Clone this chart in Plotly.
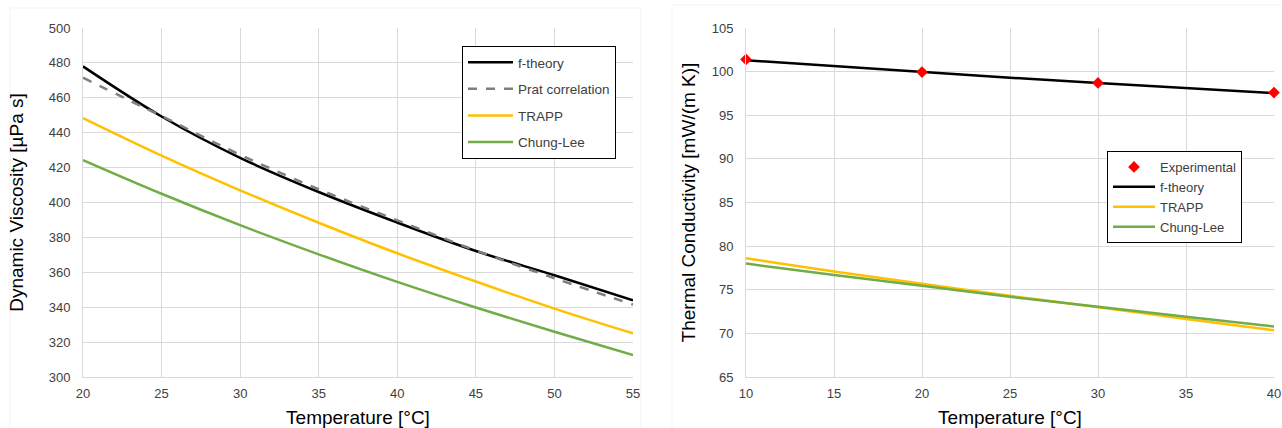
import plotly.graph_objects as go

# ---- Data: Dynamic viscosity (left) ----
temp_visc = [20, 25, 30, 35, 40, 45, 50, 55]
visc_ftheory = [478.0, 449.3, 425.6, 406.0, 388.5, 372.2, 358.3, 344.0]
visc_prat = [471.5, 449.5, 427.4, 407.6, 389.8, 372.5, 356.6, 341.5]
visc_trapp = [448.4, 426.9, 407.0, 388.4, 370.9, 354.7, 339.2, 325.0]
visc_chung = [424.3, 405.0, 387.0, 370.3, 354.5, 339.8, 325.9, 312.6]

# ---- Data: Thermal conductivity (right) ----
temp_exp = [10, 20, 30, 40]
cond_exp = [101.4, 99.95, 98.7, 97.6]
temp_cond = [10, 15, 20, 25, 30, 35, 40]
cond_ftheory = [101.3, 100.63, 99.95, 99.3, 98.7, 98.12, 97.55]
cond_trapp = [78.6, 77.1, 75.7, 74.3, 73.0, 71.65, 70.35]
cond_chung = [78.0, 76.7, 75.45, 74.2, 73.05, 71.9, 70.8]

BLACK = "#000000"
GRAY = "#7f7f7f"
GOLD = "#ffc000"
GREEN = "#70ad47"
RED = "#ff0000"
FONT = "Liberation Sans, Arial, sans-serif"
W, H = 1282, 428
TOP, BOT = 28, 377

fig = go.Figure()

# Left chart traces
fig.add_trace(go.Scatter(x=temp_visc, y=visc_ftheory, mode="lines", name="f-theory",
                         line=dict(color=BLACK, width=2.5, shape="spline"),
                         xaxis="x", yaxis="y", legend="legend", legendgroup="a"))
fig.add_trace(go.Scatter(x=temp_visc, y=visc_prat, mode="lines", name="Prat correlation",
                         line=dict(color=GRAY, width=2.5, dash="dash", shape="spline"),
                         xaxis="x", yaxis="y", legend="legend", legendgroup="b"))
fig.add_trace(go.Scatter(x=temp_visc, y=visc_trapp, mode="lines", name="TRAPP",
                         line=dict(color=GOLD, width=2.5, shape="spline"),
                         xaxis="x", yaxis="y", legend="legend", legendgroup="c"))
fig.add_trace(go.Scatter(x=temp_visc, y=visc_chung, mode="lines", name="Chung-Lee",
                         line=dict(color=GREEN, width=2.5, shape="spline"),
                         xaxis="x", yaxis="y", legend="legend", legendgroup="d"))

# Right chart traces
fig.add_trace(go.Scatter(x=temp_cond, y=cond_ftheory, mode="lines", name="f-theory",
                         line=dict(color=BLACK, width=2.5),
                         xaxis="x2", yaxis="y2", legend="legend2"))
fig.add_trace(go.Scatter(x=temp_cond, y=cond_trapp, mode="lines", name="TRAPP",
                         line=dict(color=GOLD, width=2.5, shape="spline"),
                         xaxis="x2", yaxis="y2", legend="legend2"))
fig.add_trace(go.Scatter(x=temp_cond, y=cond_chung, mode="lines", name="Chung-Lee",
                         line=dict(color=GREEN, width=2.5, shape="spline"),
                         xaxis="x2", yaxis="y2", legend="legend2"))
fig.add_trace(go.Scatter(x=temp_exp, y=cond_exp, mode="markers", name="Experimental",
                         marker=dict(symbol="diamond", color=RED, size=9),
                         cliponaxis=False, legendrank=1,
                         xaxis="x2", yaxis="y2", legend="legend2"))

axis_common = dict(showgrid=True, gridcolor="#d9d9d9", gridwidth=1,
                   showline=True, linecolor="#d9d9d9", linewidth=1,
                   zeroline=False, ticks="", mirror=False, automargin=False,
                   tickfont=dict(family=FONT, size=13, color="#404040"),
                   title_font=dict(family=FONT, size=19, color="#000000"))

fig.update_layout(
    width=W, height=H,
    margin=dict(l=0, r=0, t=TOP, b=H - BOT, autoexpand=False),
    paper_bgcolor="white", plot_bgcolor="white",
    font=dict(family=FONT, size=13, color="#404040"),
    xaxis=dict(domain=[83/W, 633/W], range=[20, 55], dtick=5, ticklabelstandoff=4,
               title=dict(text="Temperature [°C]", standoff=11), anchor="y", **axis_common),
    yaxis=dict(range=[300, 500], dtick=20, ticklabelstandoff=9,
               title=dict(text="Dynamic Viscosity [µPa s]", standoff=20), anchor="x", **axis_common),
    xaxis2=dict(domain=[746/W, 1274/W], range=[10, 40], dtick=5, ticklabelstandoff=4,
                title=dict(text="Temperature [°C]", standoff=11), anchor="y2", **axis_common),
    yaxis2=dict(range=[65, 105], dtick=5, ticklabelstandoff=9,
                title=dict(text="Thermal Conductivity [mW/(m K)]", standoff=11), anchor="x2", **axis_common),
    legend=dict(x=462/W, y=1 - (46 - TOP) / (BOT - TOP), xanchor="left", yanchor="top",
                bordercolor="#000000", borderwidth=1, bgcolor="white",
                traceorder="grouped", tracegroupgap=6, itemwidth=45,
                font=dict(family=FONT, size=13.5, color="#404040")),
    legend2=dict(x=1107/W, y=1 - (151 - TOP) / (BOT - TOP), xanchor="left", yanchor="top",
                 bordercolor="#000000", borderwidth=1, bgcolor="white",
                 tracegroupgap=0, itemwidth=42,
                 font=dict(family=FONT, size=13, color="#404040")),
    shapes=[
        dict(type="rect", xref="paper", yref="paper",
             x0=10/W, x1=641/W, y0=-0.2, y1=1 + 20/(BOT - TOP),
             line=dict(color="#f3f3f3", width=1), layer="below"),
        dict(type="rect", xref="paper", yref="paper",
             x0=672/W, x1=1290/W, y0=-0.2, y1=1 + 23/(BOT - TOP),
             line=dict(color="#f3f3f3", width=1), layer="below"),
    ],
)

fig.write_html("out.html")
